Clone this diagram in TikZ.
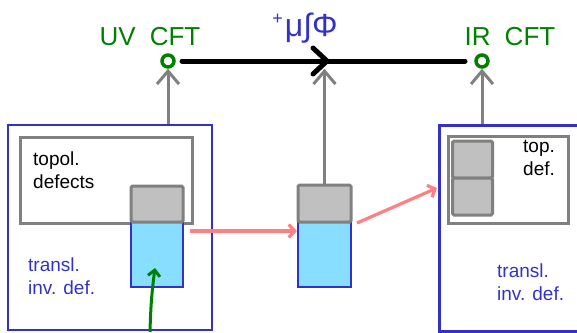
\documentclass[tikz,border=0pt]{standalone}
\usepackage{fontspec}
\setmainfont{Liberation Sans}
\usetikzlibrary{arrows.meta}
\definecolor{cftgreen}{RGB}{0,128,0}
\definecolor{defblue}{RGB}{50,50,200}
\definecolor{defgray}{RGB}{128,128,128}
\definecolor{lightgrayfill}{RGB}{192,192,192}
\definecolor{lightbluefill}{RGB}{135,222,255}
\definecolor{flowred}{RGB}{255,128,128}
\begin{document}
\begin{tikzpicture}[x=1pt,y=-1pt,
  cftpt/.style={circle,draw=cftgreen,line width=3.5pt,minimum size=12pt,inner sep=0pt},
  cftlabel/.style={text=cftgreen,font=\fontsize{26}{28}\selectfont},
  frame/.style={draw=defblue,line width=2.5pt},
  topbox/.style={draw=defgray,line width=3pt},
  graycell/.style={draw=defgray,fill=lightgrayfill,line width=3pt,rounded corners=1.5pt},
  bluecell/.style={draw=defblue,fill=lightbluefill,line width=2.2pt},
  uparrow/.style={draw=defgray,line width=3pt,-{Straight Barb[length=13pt,width=22pt,line width=3pt]}},
  shiftarrow/.style={draw=flowred,line width=3.2pt,-{Straight Barb[length=6pt,width=13pt,line width=3.2pt]}},
  handtext/.style={font=\fontsize{19}{23}\selectfont,align=left,inner sep=0pt}
]
\useasboundingbox (0,0) rectangle (577,332);

% fixed points and the flow between them
\node[cftpt] (uv) at (168,61) {};
\node[cftpt] (ir) at (482,61) {};
\node[cftlabel,anchor=base] (uvl) at (150,45) {UV\hspace{14pt}CFT};
\node[cftlabel,anchor=base] (irl) at (510,45) {IR\hspace{14pt}CFT};
\coordinate (flowstart) at (182,61);
\coordinate (flowend) at (465,61);
\coordinate (flowmid) at (327,61);
\draw[line width=5pt,line cap=round] (flowstart) -- (flowend);
\draw[line width=5pt,line cap=round,line join=round] (313,48) -- (flowmid) -- (313,74);
\node[text=defblue,font=\fontsize{32}{34}\selectfont,anchor=base] (pert) at (305,36) {\raisebox{12pt}{\fontsize{18}{18}\selectfont +}\hspace{2pt}μ∫Φ};

% left: UV theory
\node[frame,minimum width=204pt,minimum height=205pt,inner sep=0pt] (uvbox) at (110,227.5) {};
\node[topbox,minimum width=172pt,minimum height=86pt,inner sep=0pt] (uvtop) at (106,180) {};
\node[bluecell,minimum width=52pt,minimum height=65pt,inner sep=0pt] (uvinv) at (157,254.5) {};
\node[graycell,minimum width=52pt,minimum height=36pt,inner sep=0pt] (uvdef) at (157,204) {};
\node[handtext,anchor=north west] (uvtoptxt) at (33,152) {topol.\\defects};
\node[handtext,text=defblue,anchor=north west] (uvinvtxt) at (28,258) {transl.\\inv. def.};

% middle: defect moved along the flow
\node[bluecell,minimum width=53pt,minimum height=65pt,inner sep=0pt] (midinv) at (324.5,254.5) {};
\node[graycell,minimum width=53pt,minimum height=37pt,inner sep=0pt] (middef) at (324.5,203.5) {};

% right: IR theory
\node[frame,minimum width=160pt,minimum height=206pt,inner sep=0pt,anchor=north west] (irbox) at (438,124) {};
\node[topbox,minimum width=120pt,minimum height=87pt,inner sep=0pt,anchor=north west] (irtop) at (447,135) {};
\node[graycell,minimum width=40pt,minimum height=37pt,inner sep=0pt] (irdefa) at (472.5,159.5) {};
\node[graycell,minimum width=40pt,minimum height=37pt,inner sep=0pt] (irdefb) at (472.5,196.5) {};
\node[handtext,anchor=north west] (irtoptxt) at (523,140) {top.\\def.};
\node[handtext,text=defblue,anchor=north west] (irinvtxt) at (497,264) {transl.\\inv. def.};

% vertical maps to the fixed points
\draw[uparrow] (uvbox.north -| uv) -- (uv);
\draw[uparrow] (middef.north) -- (middef.north |- uv.south);
\draw[uparrow] (irbox.north -| ir) -- (ir);

% horizontal motion of the defect
\coordinate (redfoot) at (190,231);
\draw[shiftarrow] (redfoot) -- (midinv.west |- redfoot);
\coordinate (redstart) at (357,223);
\coordinate (redend) at (437,188);
\draw[shiftarrow] (redstart) -- (redend);

% incoming line into the UV defect
\coordinate (greenfoot) at (150,332);
\draw[draw=cftgreen,line width=3pt,-{Straight Barb[length=6pt,width=12pt,line width=3pt]}] (greenfoot) to[bend left=3] (155,268);
\end{tikzpicture}
\end{document}
